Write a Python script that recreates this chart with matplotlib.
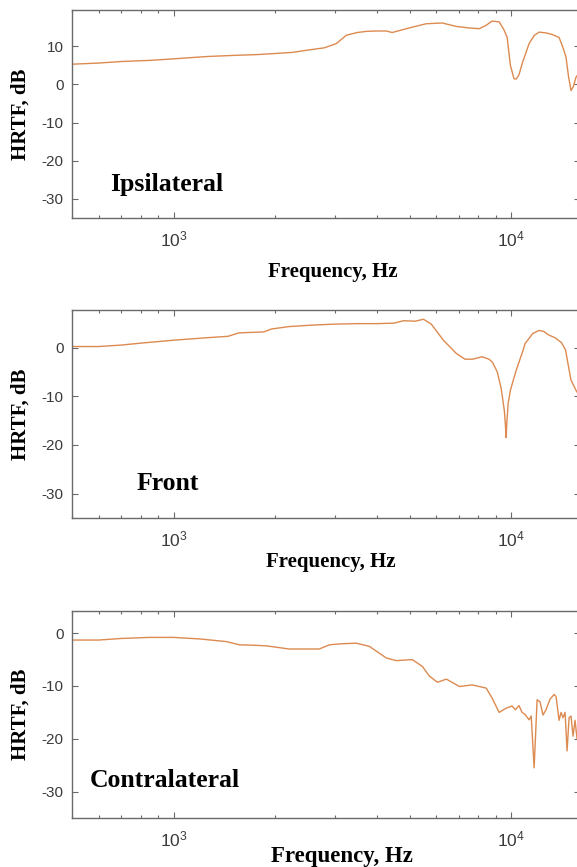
import matplotlib
matplotlib.use("Agg")
import matplotlib.pyplot as plt
from matplotlib.ticker import LogLocator, NullFormatter

# ---- data (frequency in Hz, HRTF in dB) ----
ipsi_freq = [500, 600, 700, 850, 1000, 1250, 1500, 1750, 2000, 2250, 2500, 2800,
             3035, 3250, 3500, 3724, 4000, 4268, 4445, 4800, 5094, 5604, 6250,
             6876, 7500, 8042, 8437, 8785, 9215, 9500, 9731, 9950, 10200, 10347,
             10550, 10778, 11307, 11700, 12100, 12700, 13220, 13870, 14200, 14540,
             14800, 15050, 15300, 15570, 15900]
ipsi_db = [5.3, 5.6, 6.0, 6.3, 6.7, 7.3, 7.6, 7.8, 8.1, 8.4, 9.0, 9.6,
           10.7, 12.9, 13.6, 13.9, 14.0, 14.0, 13.6, 14.4, 15.0, 15.9, 16.1,
           15.2, 14.8, 14.6, 15.5, 16.6, 16.4, 14.5, 12.4, 5.0, 1.5, 1.4,
           2.5, 5.4, 10.7, 12.8, 13.7, 13.5, 13.1, 12.3, 10.0, 7.2,
           2.0, -1.6, -0.5, 1.9, 3.0]

front_freq = [500, 600, 700, 800, 1000, 1250, 1450, 1560, 1700, 1850, 1950, 2200,
              2578, 3000, 3500, 4000, 4500, 4800, 5200, 5500, 5800, 6300, 6876,
              7300, 7700, 8200, 8600, 8800, 9100, 9350, 9550, 9620, 9666, 9720,
              9800, 9950, 10350, 10800, 11000, 11600, 12100, 12500, 12900, 13500,
              14100, 14500, 14800, 15050, 15570, 15900]
front_db = [0.2, 0.2, 0.5, 0.9, 1.5, 2.0, 2.3, 3.0, 3.1, 3.2, 3.8, 4.3,
            4.6, 4.8, 4.9, 4.9, 5.0, 5.5, 5.4, 5.8, 4.8, 1.5, -1.2,
            -2.4, -2.4, -1.9, -2.4, -3.0, -5.0, -8.5, -13.0, -16.0, -18.5, -15.0,
            -11.5, -8.8, -4.7, -1.0, 0.8, 2.9, 3.5, 3.3, 2.6, 2.0,
            1.0, -0.5, -4.0, -6.7, -8.8, -9.8]

contra_freq = [500, 600, 700, 850, 1000, 1200, 1435, 1567, 1750, 1885, 2200, 2526,
               2700, 2896, 3150, 3480, 3803, 4268, 4570, 5094, 5460, 5720, 6050,
               6430, 7030, 7670, 8437, 8785, 9215, 9666, 10069, 10300, 10550,
               10778, 11000, 11300, 11470, 11700, 11870, 11940, 12180, 12430,
               12690, 13040, 13410, 13590, 13870, 14060, 14250, 14450, 14650,
               14850, 15050, 15260, 15470, 15680, 15900]
contra_db = [-1.3, -1.3, -1.0, -0.8, -0.8, -1.1, -1.6, -2.2, -2.3, -2.4, -3.0, -3.0,
             -3.0, -2.2, -2.0, -1.9, -2.5, -4.7, -5.2, -5.0, -6.3, -8.1, -9.3,
             -8.7, -10.1, -9.8, -10.4, -12.3, -15.0, -14.2, -13.8, -14.5, -13.7,
             -15.0, -15.4, -16.4, -15.7, -25.5, -16.4, -12.6, -13.0, -15.5,
             -14.5, -12.5, -11.6, -12.0, -16.5, -15.0, -16.0, -15.0, -22.3,
             -16.0, -15.7, -19.5, -16.5, -20.0, -18.0]

panel_names = ["Ipsilateral", "Front", "Contralateral"]
panel_ylim = [(-35, 19.5), (-35, 7.7), (-35, 4.2)]
panel_yticks = [[-30, -20, -10, 0, 10], [-30, -20, -10, 0], [-30, -20, -10, 0]]

plt.rcParams["font.family"] = ["Liberation Sans", "DejaVu Sans"]
plt.rcParams["mathtext.fontset"] = "custom"
plt.rcParams["mathtext.rm"] = "Liberation Sans"
plt.rcParams["axes.unicode_minus"] = False

W, H = 577, 867
fig = plt.figure(figsize=(W / 100, H / 100), dpi=100)

# axes boxes in pixels: (left, top, right, bottom)
boxes = [(72, 10, 580, 218), (72, 310, 580, 518), (72, 611, 580, 818)]
xlabel_pos = [(0.514, -0.284, 15), (0.510, -0.236, 15), (0.532, -0.213, 16.5)]
name_pos = [(0.075, 0.130), (0.128, 0.135), (0.035, 0.150)]

series = [(ipsi_freq, ipsi_db), (front_freq, front_db), (contra_freq, contra_db)]
line_color = "#DD8A50"
frame_color = "#6a6a6a"
text_color = "#3a3a3a"
serif = ["Liberation Serif", "DejaVu Serif"]

for i, (freq, db) in enumerate(series):
    l, t, r, b = boxes[i]
    ax = fig.add_axes([l / W, (H - b) / H, (r - l) / W, (b - t) / H])
    ax.plot(freq, db, color=line_color, lw=1.0)
    ax.set_xscale("log")
    ax.set_xlim(500, 16000)
    ax.set_ylim(*panel_ylim[i])
    ax.set_yticks(panel_yticks[i])
    ax.xaxis.set_major_locator(LogLocator(base=10))
    ax.xaxis.set_minor_locator(LogLocator(base=10, subs=range(2, 10)))
    ax.xaxis.set_minor_formatter(NullFormatter())

    for sp in ax.spines.values():
        sp.set_color(frame_color)
        sp.set_linewidth(1.0)
    ax.tick_params(which="both", direction="in", top=True, right=True,
                   color=frame_color, width=0.8)
    ax.tick_params(which="major", length=4)
    ax.tick_params(which="minor", length=2.5)
    ax.tick_params(axis="y", labelsize=11, labelcolor=text_color, pad=6)
    ax.tick_params(axis="x", labelsize=12.5, labelcolor=text_color, pad=8)

    ax.set_ylabel("HRTF, dB", family=serif, fontweight="bold", fontsize=15,
                  va="center")
    ax.yaxis.set_label_coords(-0.102, 0.5)
    xx, xy, xs = xlabel_pos[i]
    ax.set_xlabel("Frequency, Hz", family=serif, fontweight="bold",
                  fontsize=xs, va="baseline")
    ax.xaxis.set_label_coords(xx, xy)

    nx, ny = name_pos[i]
    ax.text(nx, ny, panel_names[i], transform=ax.transAxes, family=serif,
            fontweight="bold", fontsize=18.5, va="baseline", ha="left")

fig.savefig("out.png", dpi=100)
